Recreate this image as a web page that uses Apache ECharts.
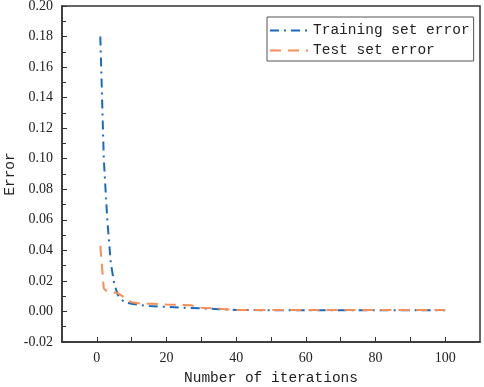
<!DOCTYPE html>
<html>
<head>
<meta charset="utf-8">
<script src="https://cdn.jsdelivr.net/npm/echarts@6/dist/echarts.min.js"></script>
<style>
  html, body { margin: 0; padding: 0; background: #fff; }
  #chart { width: 484px; height: 387px; }
</style>
</head>
<body>
<div id="chart"></div>
<script>
// values: [iteration, error]
const trainingError = [
  [1, 0.180], [2, 0.100], [3, 0.060], [4, 0.032], [5, 0.018], [6, 0.011],
  [7, 0.008], [8, 0.006], [10, 0.005], [15, 0.0035], [20, 0.003], [25, 0.0025],
  [30, 0.002], [35, 0.0015], [40, 0.001], [50, 0.0008], [60, 0.0008],
  [70, 0.0008], [80, 0.0008], [90, 0.0008], [100, 0.0008],
];
const testError = [
  [1, 0.043], [2, 0.015], [3, 0.013], [6, 0.012], [8, 0.009], [10, 0.006],
  [13, 0.005], [16, 0.005], [20, 0.0045], [27, 0.004], [30, 0.0025],
  [35, 0.0018], [40, 0.001], [50, 0.001], [60, 0.001], [70, 0.001],
  [80, 0.001], [90, 0.001], [100, 0.001],
];
const xLabels = [0, 20, 40, 60, 80, 100];
const seriesNames = ["Training set error", "Test set error"];

const colors = ["#1A6AC0", "#FA8C55"];
const font = "'Liberation Mono', monospace";
const tickFont = "'Liberation Serif', serif";

const chart = echarts.init(document.getElementById("chart"));
chart.setOption({
  animation: false,
  color: colors,
  textStyle: { fontFamily: font, color: "#222" },
  grid: {
    left: 62,
    right: 4,
    top: 6,
    bottom: 45,
    outerBoundsMode: "none",
    show: true,
    borderColor: "#333",
    borderWidth: 1.5,
  },
  legend: {
    data: seriesNames,
    orient: "vertical",
    left: 267,
    top: 17,
    width: 206,
    padding: [6, 4, 3, 2],
    itemWidth: 38,
    itemHeight: 12,
    itemGap: 5,
    borderColor: "#555",
    borderWidth: 1,
    itemStyle: { opacity: 0 },
    textStyle: { fontFamily: font, fontSize: 14.5, color: "#222" },
  },
  xAxis: {
    type: "value",
    min: -10,
    max: 110,
    interval: 10,
    name: "Number of iterations",
    nameLocation: "middle",
    nameGap: 29,
    nameMoveOverlap: false,
    nameTextStyle: { fontFamily: font, fontSize: 14.5, color: "#222" },
    axisLine: { onZero: false, lineStyle: { color: "#333", width: 1.5 } },
    axisTick: { inside: true, length: 5, lineStyle: { color: "#333" } },
    splitLine: { show: false },
    axisLabel: {
      margin: 9,
      fontFamily: tickFont,
      fontSize: 14,
      color: "#222",
      showMinLabel: false,
      showMaxLabel: false,
      formatter: (v) => (xLabels.includes(v) ? String(v) : ""),
    },
  },
  yAxis: {
    type: "value",
    min: -0.02,
    max: 0.2,
    interval: 0.02,
    name: "Error",
    nameLocation: "middle",
    nameGap: 44,
    nameMoveOverlap: false,
    nameTextStyle: { fontFamily: font, fontSize: 14.5, color: "#222" },
    axisLine: { show: true, onZero: false, lineStyle: { color: "#333", width: 1.5 } },
    axisTick: { inside: true, length: 5, lineStyle: { color: "#333" } },
    minorTick: { show: true, splitNumber: 2, length: 4, lineStyle: { color: "#333" } },
    splitLine: { show: false },
    axisLabel: {
      margin: 9,
      fontFamily: tickFont,
      fontSize: 14,
      color: "#222",
      formatter: (v) => v.toFixed(2),
    },
  },
  series: [
    {
      name: seriesNames[0],
      type: "line",
      data: trainingError,
      showSymbol: false,
      symbol: "none",
      lineStyle: { width: 2, type: [9, 5, 2, 5] },
    },
    {
      name: seriesNames[1],
      type: "line",
      data: testError,
      showSymbol: false,
      symbol: "none",
      lineStyle: { width: 2, type: [11, 7] },
    },
  ],
});
</script>
</body>
</html>
